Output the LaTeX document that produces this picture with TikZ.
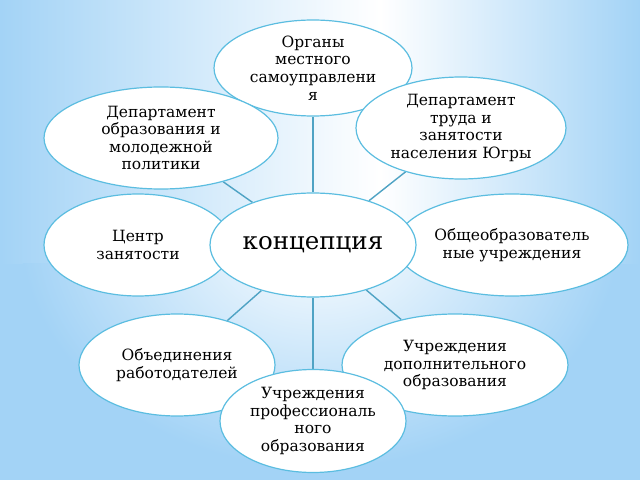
\documentclass[tikz,border=0pt]{standalone}
\usepackage{fontspec}
\setmainfont{DejaVu Serif}
\usetikzlibrary{shapes.geometric}
\pgfdeclarelayer{backdrop}
\pgfdeclarelayer{links}
\pgfsetlayers{backdrop,links,main}
\definecolor{bgblue}{HTML}{A3D3F6}
\definecolor{edge}{HTML}{5BBDE0}
\definecolor{link}{HTML}{4FA3C4}
\tikzset{
  bubble/.style={ellipse, draw=edge, line width=1.2pt, fill=white, inner sep=0pt, align=center,
    font=\fontsize{15.5}{17.5}\selectfont, text=black},
  linkline/.style={draw=link, line width=1.4pt}
}
\begin{document}
\begin{tikzpicture}[x=1pt,y=1pt]
\useasboundingbox (0,0) rectangle (640,480);
% nodes
\node[bubble, minimum width=198pt, minimum height=96pt] (org) at (313,412) {Органы\\местного\\самоуправлени\\я};
\node[bubble, minimum width=210pt, minimum height=102pt] (trud) at (461,352) {Департамент\\труда и\\занятости\\населения Югры};
\node[bubble, minimum width=234pt, minimum height=102pt] (obr) at (161,342) {Департамент\\образования и\\молодежной\\политики};
\node[bubble, minimum width=188pt, minimum height=102pt] (czn) at (138,235) {Центр\\занятости};
\node[bubble, minimum width=232pt, minimum height=102pt] (osh) at (512,235) {Общеобразователь\\ные учреждения};
\node[bubble, minimum width=196pt, minimum height=102pt] (rab) at (177,115) {Объединения\\работодателей};
\node[bubble, minimum width=226pt, minimum height=102pt] (dop) at (455,115) {Учреждения\\дополнительного\\образования};
\node[bubble, minimum width=206pt, minimum height=104pt, font=\fontsize{24.5}{28}\selectfont] (kon) at (313,235) {концепция};
\node[bubble, minimum width=186pt, minimum height=103pt] (prof) at (313,59) {Учреждения\\профессиональ\\ного\\образования};
% background
\begin{pgfonlayer}{backdrop}
\fill[bgblue] (0,0) rectangle (640,480);
\shade[left color=bgblue, right color=white] (0,217) rectangle (380,480);
\shade[left color=white, right color=bgblue] (380,217) rectangle (640,480);
\begin{scope}
\clip (0,0) rectangle (640,217);
\shade[inner color=white, outer color=bgblue] (320,250) ellipse [x radius=300, y radius=238];
\end{scope}
\end{pgfonlayer}
% connectors
\begin{pgfonlayer}{links}
\path[linkline] (kon) -- (org);
\path[linkline] (kon) -- (trud);
\path[linkline] (kon) -- (obr);
\path[linkline] (kon) -- (rab);
\path[linkline] (kon) -- (dop);
\path[linkline] (kon) -- (prof);
\end{pgfonlayer}
\end{tikzpicture}
\end{document}
